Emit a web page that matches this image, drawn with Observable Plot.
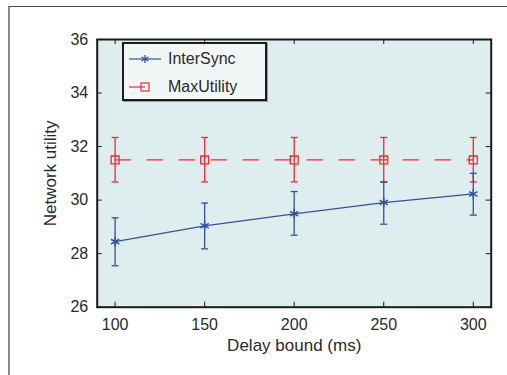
<!DOCTYPE html>
<html>
<head>
<meta charset="utf-8">
<script src="https://cdn.jsdelivr.net/npm/d3@7"></script>
<script src="https://cdn.jsdelivr.net/npm/@observablehq/plot@0.6"></script>
<style>
  html, body { margin: 0; padding: 0; background: #fff; }
  #wrap { position: relative; width: 507px; height: 375px; overflow: hidden; font-family: "Liberation Sans", Arial, sans-serif; }
  #page { position: absolute; left: 8px; top: 6px; width: 520px; height: 400px; border-top: 1.5px solid #4a4a4a; border-left: 2px solid #8a8a8a; box-sizing: border-box; }
  #chart { position: absolute; left: 0; top: 0; }
  #legend { position: absolute; left: 122px; top: 42px; width: 145px; height: 59px; box-sizing: border-box; border: 2px solid #1a1a1a; background: #f1f7f7; box-shadow: 1px 1px 0 #999; }
  .row { position: absolute; left: 4px; height: 20px; display: flex; align-items: center; font-size: 16px; color: #2a2a2a; }
  .row svg { margin-right: 6px; }
</style>
</head>
<body>
<div id="wrap">
  <div id="page"></div>
  <div id="chart"></div>
  <div id="legend">
    <div class="row" style="top:5px"><svg width="34" height="14" viewBox="0 0 34 14"><line x1="1" y1="7" x2="33" y2="7" stroke="#3450a0" stroke-width="1.2"/><g stroke="#3450a0" stroke-width="1.3"><line x1="17" y1="3" x2="17" y2="11"/><line x1="13.5" y1="5" x2="20.5" y2="9"/><line x1="13.5" y1="9" x2="20.5" y2="5"/></g></svg><span>InterSync</span></div>
    <div class="row" style="top:33px"><svg width="34" height="14" viewBox="0 0 34 14"><line x1="1" y1="7" x2="17" y2="7" stroke="#ee2a2f" stroke-width="1.2"/><rect x="13" y="3" width="8" height="8" fill="none" stroke="#ee2a2f" stroke-width="1.2"/></svg><span>MaxUtility</span></div>
  </div>
</div>
<script>
const delays = [100, 150, 200, 250, 300];
const interSync = [28.45, 29.04, 29.49, 29.91, 30.23];
const interSyncLow = [27.55, 28.18, 28.69, 29.1, 29.44];
const interSyncHigh = [29.34, 29.89, 30.32, 30.67, 31.0];
const maxUtility = [31.5, 31.5, 31.5, 31.5, 31.5];
const maxUtilityLow = [30.68, 30.68, 30.68, 30.68, 30.68];
const maxUtilityHigh = [32.34, 32.34, 32.34, 32.34, 32.34];
const xTicks = [100, 150, 200, 250, 300];
const yTicks = [26, 28, 30, 32, 34, 36];

const blue = "#3450a0";
const red = "#ee2a2f";

const inter = delays.map((d, i) => ({x: d, y: interSync[i], lo: interSyncLow[i], hi: interSyncHigh[i]}));
const maxu = delays.map((d, i) => ({x: d, y: maxUtility[i], lo: maxUtilityLow[i], hi: maxUtilityHigh[i]}));

const cap = {draw(ctx) { ctx.moveTo(-3.5, 0); ctx.lineTo(3.5, 0); }};

const W = 507, H = 375;
const mt = 39, mb = 68.3, ml = 96.7, mr = 16.3;
const ph = H - mt - mb, pw = W - ml - mr;
const tl = 5;

const chart = Plot.plot({
  width: W,
  height: H,
  marginTop: mt,
  marginBottom: mb,
  marginLeft: ml,
  marginRight: mr,
  style: {fontFamily: "'Liberation Sans', Arial, sans-serif", color: "#2a2a2a", background: "transparent"},
  x: {domain: [90, 310]},
  y: {domain: [26, 36]},
  marks: [
    Plot.frame({fill: "#deeeee", stroke: null}),
    Plot.axisX(xTicks, {tickSize: 0, tickPadding: 11, fontSize: 16, label: null, fill: "#2a2a2a"}),
    Plot.axisX([], {tickSize: 0, fontSize: 17, label: "Delay bound (ms)", labelAnchor: "center", labelOffset: 44, labelArrow: "none", fill: "#2a2a2a"}),
    Plot.axisY(yTicks, {tickSize: 0, tickPadding: 9, fontSize: 16, label: null, fill: "#2a2a2a"}),
    Plot.axisY([], {tickSize: 0, fontSize: 17, label: "Network utility", labelAnchor: "center", labelOffset: 53, labelArrow: "none", fill: "#2a2a2a"}),
    // inward tick marks
    Plot.tickX(xTicks, {x: d => d, insetTop: ph - tl, stroke: "#1a1a1a", strokeWidth: 1}),
    Plot.tickX(xTicks, {x: d => d, insetBottom: ph - tl, stroke: "#1a1a1a", strokeWidth: 1}),
    Plot.tickY(yTicks, {y: d => d, insetRight: pw - tl, stroke: "#1a1a1a", strokeWidth: 1}),
    Plot.tickY(yTicks, {y: d => d, insetLeft: pw - tl, stroke: "#1a1a1a", strokeWidth: 1}),
    // MaxUtility
    Plot.lineY(maxu, {x: "x", y: "y", stroke: red, strokeWidth: 1.3, strokeDasharray: "15.5,16.5"}),
    Plot.ruleX(maxu, {x: "x", y1: "lo", y2: "hi", stroke: red, strokeWidth: 1.3}),
    Plot.dot(maxu, {x: "x", y: "lo", symbol: cap, stroke: red, strokeWidth: 1.3}),
    Plot.dot(maxu, {x: "x", y: "hi", symbol: cap, stroke: red, strokeWidth: 1.3}),
    Plot.dot(maxu, {x: "x", y: "y", symbol: "square", r: 4.5, stroke: red, fill: "none", strokeWidth: 1.3}),
    // InterSync
    Plot.lineY(inter, {x: "x", y: "y", stroke: blue, strokeWidth: 1.3}),
    Plot.ruleX(inter, {x: "x", y1: "lo", y2: "hi", stroke: blue, strokeWidth: 1.3}),
    Plot.dot(inter, {x: "x", y: "lo", symbol: cap, stroke: blue, strokeWidth: 1.3}),
    Plot.dot(inter, {x: "x", y: "hi", symbol: cap, stroke: blue, strokeWidth: 1.3}),
    Plot.dot(inter, {x: "x", y: "y", symbol: "asterisk", r: 4.5, stroke: blue, strokeWidth: 1.5}),
    Plot.frame({stroke: "#1a1a1a", strokeWidth: 2})
  ]
});
document.getElementById("chart").appendChild(chart);
</script>
</body>
</html>
